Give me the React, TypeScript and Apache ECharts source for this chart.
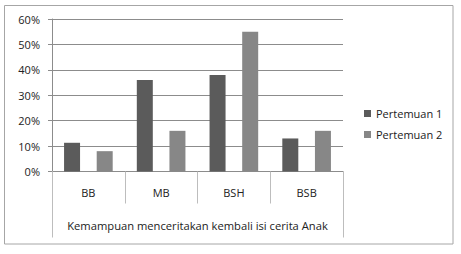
import React, { useEffect, useRef } from "react";
import * as echarts from "echarts";

const categories = ["BB", "MB", "BSH", "BSB"];
const groupLabel = ["Kemampuan menceritakan kembali isi cerita Anak"];
const pertemuan1 = [0.113, 0.36, 0.38, 0.13];
const pertemuan2 = [0.08, 0.16, 0.55, 0.16];
const seriesNames = ["Pertemuan 1", "Pertemuan 2"];

const FONT = "Open Sans";

export default function App() {
  const ref = useRef<HTMLDivElement>(null);
  useEffect(() => {
    if (!ref.current) return;
    const chart = echarts.init(ref.current, undefined, { renderer: "svg" });
    chart.setOption({
      animation: false,
      backgroundColor: "#ffffff",
      textStyle: { fontFamily: FONT },
      graphic: [
        {
          type: "rect",
          shape: { x: 4.5, y: 5.5, width: 448.5, height: 238.5 },
          style: { fill: "none", stroke: "#a6a6a6", lineWidth: 1 },
          silent: true,
        },
      ],
      legend: {
        orient: "vertical",
        left: 364,
        top: 108,
        padding: 0,
        itemWidth: 7,
        itemHeight: 7,
        itemGap: 10,
        icon: "rect",
        textStyle: { fontFamily: FONT, fontSize: 11, color: "#222" },
        data: seriesNames,
      },
      grid: { left: 52, right: 118, top: 19, bottom: 82.5, containLabel: false },
      xAxis: [
        {
          type: "category",
          data: categories,
          position: "bottom",
          offset: 0,
          axisLine: { show: true, lineStyle: { color: "#8c8c8c" } },
          axisTick: { show: true, length: 32, alignWithLabel: false, lineStyle: { color: "#bdbdbd" } },
          axisLabel: { margin: 15, fontFamily: FONT, fontSize: 11, color: "#222" },
        },
        {
          type: "category",
          data: groupLabel,
          position: "bottom",
          offset: 0,
          axisLine: { show: false },
          axisTick: { show: true, length: 66, alignWithLabel: false, lineStyle: { color: "#bdbdbd" } },
          axisLabel: { margin: 48, fontFamily: FONT, fontSize: 11.2, color: "#222" },
        },
      ],
      yAxis: {
        type: "value",
        min: 0,
        max: 0.6,
        interval: 0.1,
        axisLine: { show: true, lineStyle: { color: "#8c8c8c" } },
        axisTick: { show: true, length: 4, lineStyle: { color: "#8c8c8c" } },
        splitLine: { show: true, lineStyle: { color: "#8c8c8c" } },
        axisLabel: {
          margin: 12,
          fontFamily: FONT,
          fontSize: 11,
          color: "#222",
          formatter: (v: number) => Math.round(v * 100) + "%",
        },
      },
      series: [
        {
          name: seriesNames[0],
          type: "bar",
          xAxisIndex: 0,
          data: pertemuan1,
          barWidth: 16,
          barGap: "104%",
          itemStyle: { color: "#5b5b5b" },
        },
        {
          name: seriesNames[1],
          type: "bar",
          xAxisIndex: 0,
          data: pertemuan2,
          barWidth: 16,
          barGap: "104%",
          itemStyle: { color: "#878787" },
        },
      ],
    });
    return () => chart.dispose();
  }, []);
  return (
    <div
      ref={ref}
      style={{ position: "fixed", left: 0, top: 0, width: 461, height: 254, background: "#fff" }}
    />
  );
}
